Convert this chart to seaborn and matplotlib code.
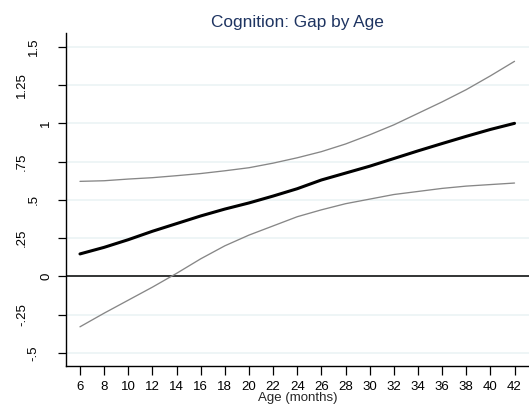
import matplotlib
matplotlib.use("Agg")
import matplotlib.pyplot as plt
import seaborn as sns
import pandas as pd

# data
age = [6, 8, 10, 12, 14, 16, 18, 20, 22, 24, 26, 28, 30, 32, 34, 36, 38, 40, 42]
gap = [0.147, 0.19, 0.24, 0.295, 0.345, 0.395, 0.44, 0.48, 0.525, 0.573,
       0.63, 0.675, 0.72, 0.77, 0.82, 0.868, 0.915, 0.96, 1.0]
upper = [0.621, 0.625, 0.636, 0.645, 0.658, 0.672, 0.69, 0.71, 0.74, 0.775,
         0.815, 0.865, 0.925, 0.99, 1.065, 1.14, 1.22, 1.31, 1.405]
lower = [-0.329, -0.24, -0.155, -0.07, 0.02, 0.115, 0.2, 0.27, 0.33, 0.39,
         0.435, 0.475, 0.505, 0.535, 0.555, 0.575, 0.59, 0.60, 0.61]

x_ticks = list(range(6, 43, 2))
y_ticks = [-0.5, -0.25, 0, 0.25, 0.5, 0.75, 1, 1.25, 1.5]
y_labels = ["-.5", "-.25", "0", ".25", ".5", ".75", "1", "1.25", "1.5"]

df = pd.DataFrame({"age": age, "gap": gap, "upper": upper, "lower": lower})

sns.set_style("white")
plt.rcParams["font.family"] = ["Liberation Sans", "DejaVu Sans"]

fig = plt.figure(figsize=(5.29, 4.13), dpi=100)
ax = fig.add_axes([65.5 / 529, 1 - 366 / 413, (529 - 65.5) / 529, (366 - 33) / 413])

grid_col = "#eaf2f4"
for yv in y_ticks:
    ax.axhline(yv, color=grid_col, lw=1.1, zorder=0)
ax.axhline(0, color="black", lw=1.1, zorder=1)

sns.lineplot(data=df, x="age", y="upper", ax=ax, color="#878787", linewidth=0.95)
sns.lineplot(data=df, x="age", y="lower", ax=ax, color="#878787", linewidth=0.95)
sns.lineplot(data=df, x="age", y="gap", ax=ax, color="black", linewidth=2.2)

ax.set_xlim(4.8, 43.2)
ax.set_ylim(-0.585, 1.59)

ax.set_xticks(x_ticks)
ax.set_xticklabels([str(v) for v in x_ticks], fontsize=9.5)
ax.set_yticks(y_ticks)
ax.set_yticklabels([])
ax.tick_params(axis="x", direction="out", length=6.2, width=0.9, pad=4.7, colors="black")
ax.tick_params(axis="y", direction="out", length=6.1, width=0.9, colors="black")
ax.tick_params(left=True, bottom=True)

# Stata-style rotated y labels, shifted by number of decimals
tr = ax.get_yaxis_transform()
for yv, lab in zip(y_ticks, y_labels):
    ndec = len(lab.split(".")[1]) if "." in lab else 0
    xc = [46, 33.5, 22][ndec]
    ax.text((xc - 65.5) / 463.5, yv, lab, transform=tr, rotation=90,
            ha="center", va="center", fontsize=9.5, color="black")

for s in ["top", "right"]:
    ax.spines[s].set_visible(False)
for s in ["left", "bottom"]:
    ax.spines[s].set_color("black")
    ax.spines[s].set_linewidth(1.0)

ax.set_xlabel("Age (months)", fontsize=9.5, labelpad=-1)
ax.set_ylabel("")
ax.set_title("Cognition: Gap by Age", fontsize=12.4, color="#1e3461", pad=4.5)

fig.savefig("out.png", dpi=100)
